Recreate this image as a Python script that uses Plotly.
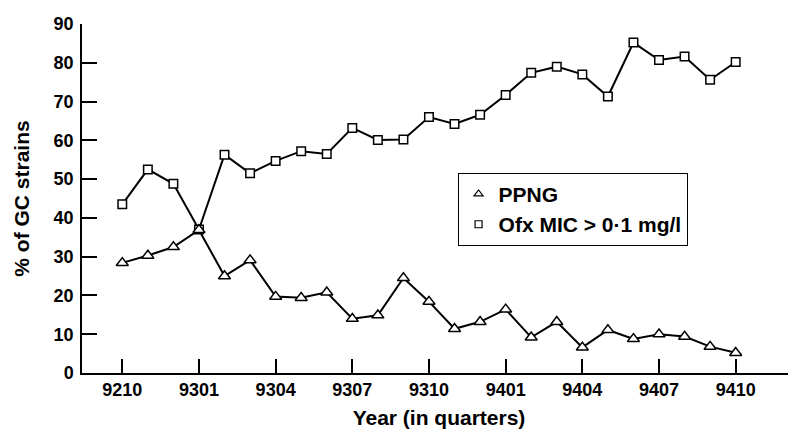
import plotly.graph_objects as go

months = ["9210", "9211", "9212",
          "9301", "9302", "9303", "9304", "9305", "9306", "9307", "9308", "9309", "9310", "9311", "9312",
          "9401", "9402", "9403", "9404", "9405", "9406", "9407", "9408", "9409", "9410"]
ppng = [28.4, 30.3, 32.5, 36.9, 25.0, 29.1, 19.7, 19.4, 20.8, 14.0, 14.9, 24.5, 18.4,
        11.4, 13.2, 16.4, 9.2, 13.2, 6.6, 11.1, 8.8, 10.0, 9.4, 6.8, 5.2]
ofx = [43.5, 52.5, 48.8, 37.0, 56.3, 51.5, 54.7, 57.2, 56.5, 63.2, 60.1, 60.2, 66.0,
       64.2, 66.6, 71.7, 77.4, 79.0, 77.0, 71.3, 85.2, 80.7, 81.6, 75.6, 80.2]
tick_labels = ["9210", "9301", "9304", "9307", "9310", "9401", "9404", "9407", "9410"]
y_ticks = [0, 10, 20, 30, 40, 50, 60, 70, 80, 90]

x_idx = list(range(len(months)))
tick_vals = [months.index(t) for t in tick_labels]

FONT = "Arial, Liberation Sans, Helvetica, sans-serif"

fig = go.Figure()

fig.add_trace(go.Scatter(
    x=x_idx, y=ofx, mode="lines+markers", showlegend=False,
    line=dict(color="black", width=2),
    marker=dict(symbol="square", size=8.5, color="white", line=dict(color="black", width=1.5)),
))
fig.add_trace(go.Scatter(
    x=x_idx, y=ppng, mode="lines+markers", showlegend=False,
    line=dict(color="black", width=2),
    marker=dict(symbol="triangle-up", size=10.5, color="white", line=dict(color="black", width=1.5)),
))
# legend entries (symbols only)
fig.add_trace(go.Scatter(
    x=[None], y=[None], mode="markers", name="PPNG",
    marker=dict(symbol="triangle-up", size=8, color="white", line=dict(color="black", width=1.2)),
))
fig.add_trace(go.Scatter(
    x=[None], y=[None], mode="markers", name="Ofx MIC > 0·1 mg/l",
    marker=dict(symbol="square", size=7, color="white", line=dict(color="black", width=1.2)),
))

# page body has an 8px margin: figure is 788x422 placed at (8, 8)
fig.update_layout(
    width=788, height=422,
    margin=dict(l=74, r=0, t=16, b=56.5),
    paper_bgcolor="white", plot_bgcolor="white",
    font=dict(family=FONT, color="black"),
    showlegend=True,
    legend=dict(
        x=0.526, y=0.5737, xanchor="left", yanchor="top",
        bgcolor="white", bordercolor="black", borderwidth=1,
        font=dict(family=FONT, size=21, color="black", weight="bold"),
        itemsizing="trace", tracegroupgap=0,
    ),
    xaxis=dict(
        range=[-1.576, 26.36],
        tickmode="array", tickvals=tick_vals, ticktext=tick_labels,
        ticks="inside", ticklen=14, tickwidth=1.5, tickcolor="black",
        showline=True, linecolor="black", linewidth=1.5,
        showgrid=False, zeroline=False,
        tickfont=dict(family=FONT, size=18, color="black", weight="bold"),
        title=dict(text="Year (in quarters)", standoff=11,
                   font=dict(family=FONT, size=21, color="black", weight="bold")),
    ),
    yaxis=dict(
        range=[0, 90],
        tickmode="array", tickvals=y_ticks,
        ticks="inside", ticklen=15, tickwidth=1.5, tickcolor="black",
        ticklabelstandoff=3,
        showline=True, linecolor="black", linewidth=1.5,
        showgrid=False, zeroline=False,
        tickfont=dict(family=FONT, size=18, color="black", weight="bold"),
        title=dict(text="% of GC strains", standoff=18,
                   font=dict(family=FONT, size=21, color="black", weight="bold")),
    ),
)

fig.write_html("out.html")
